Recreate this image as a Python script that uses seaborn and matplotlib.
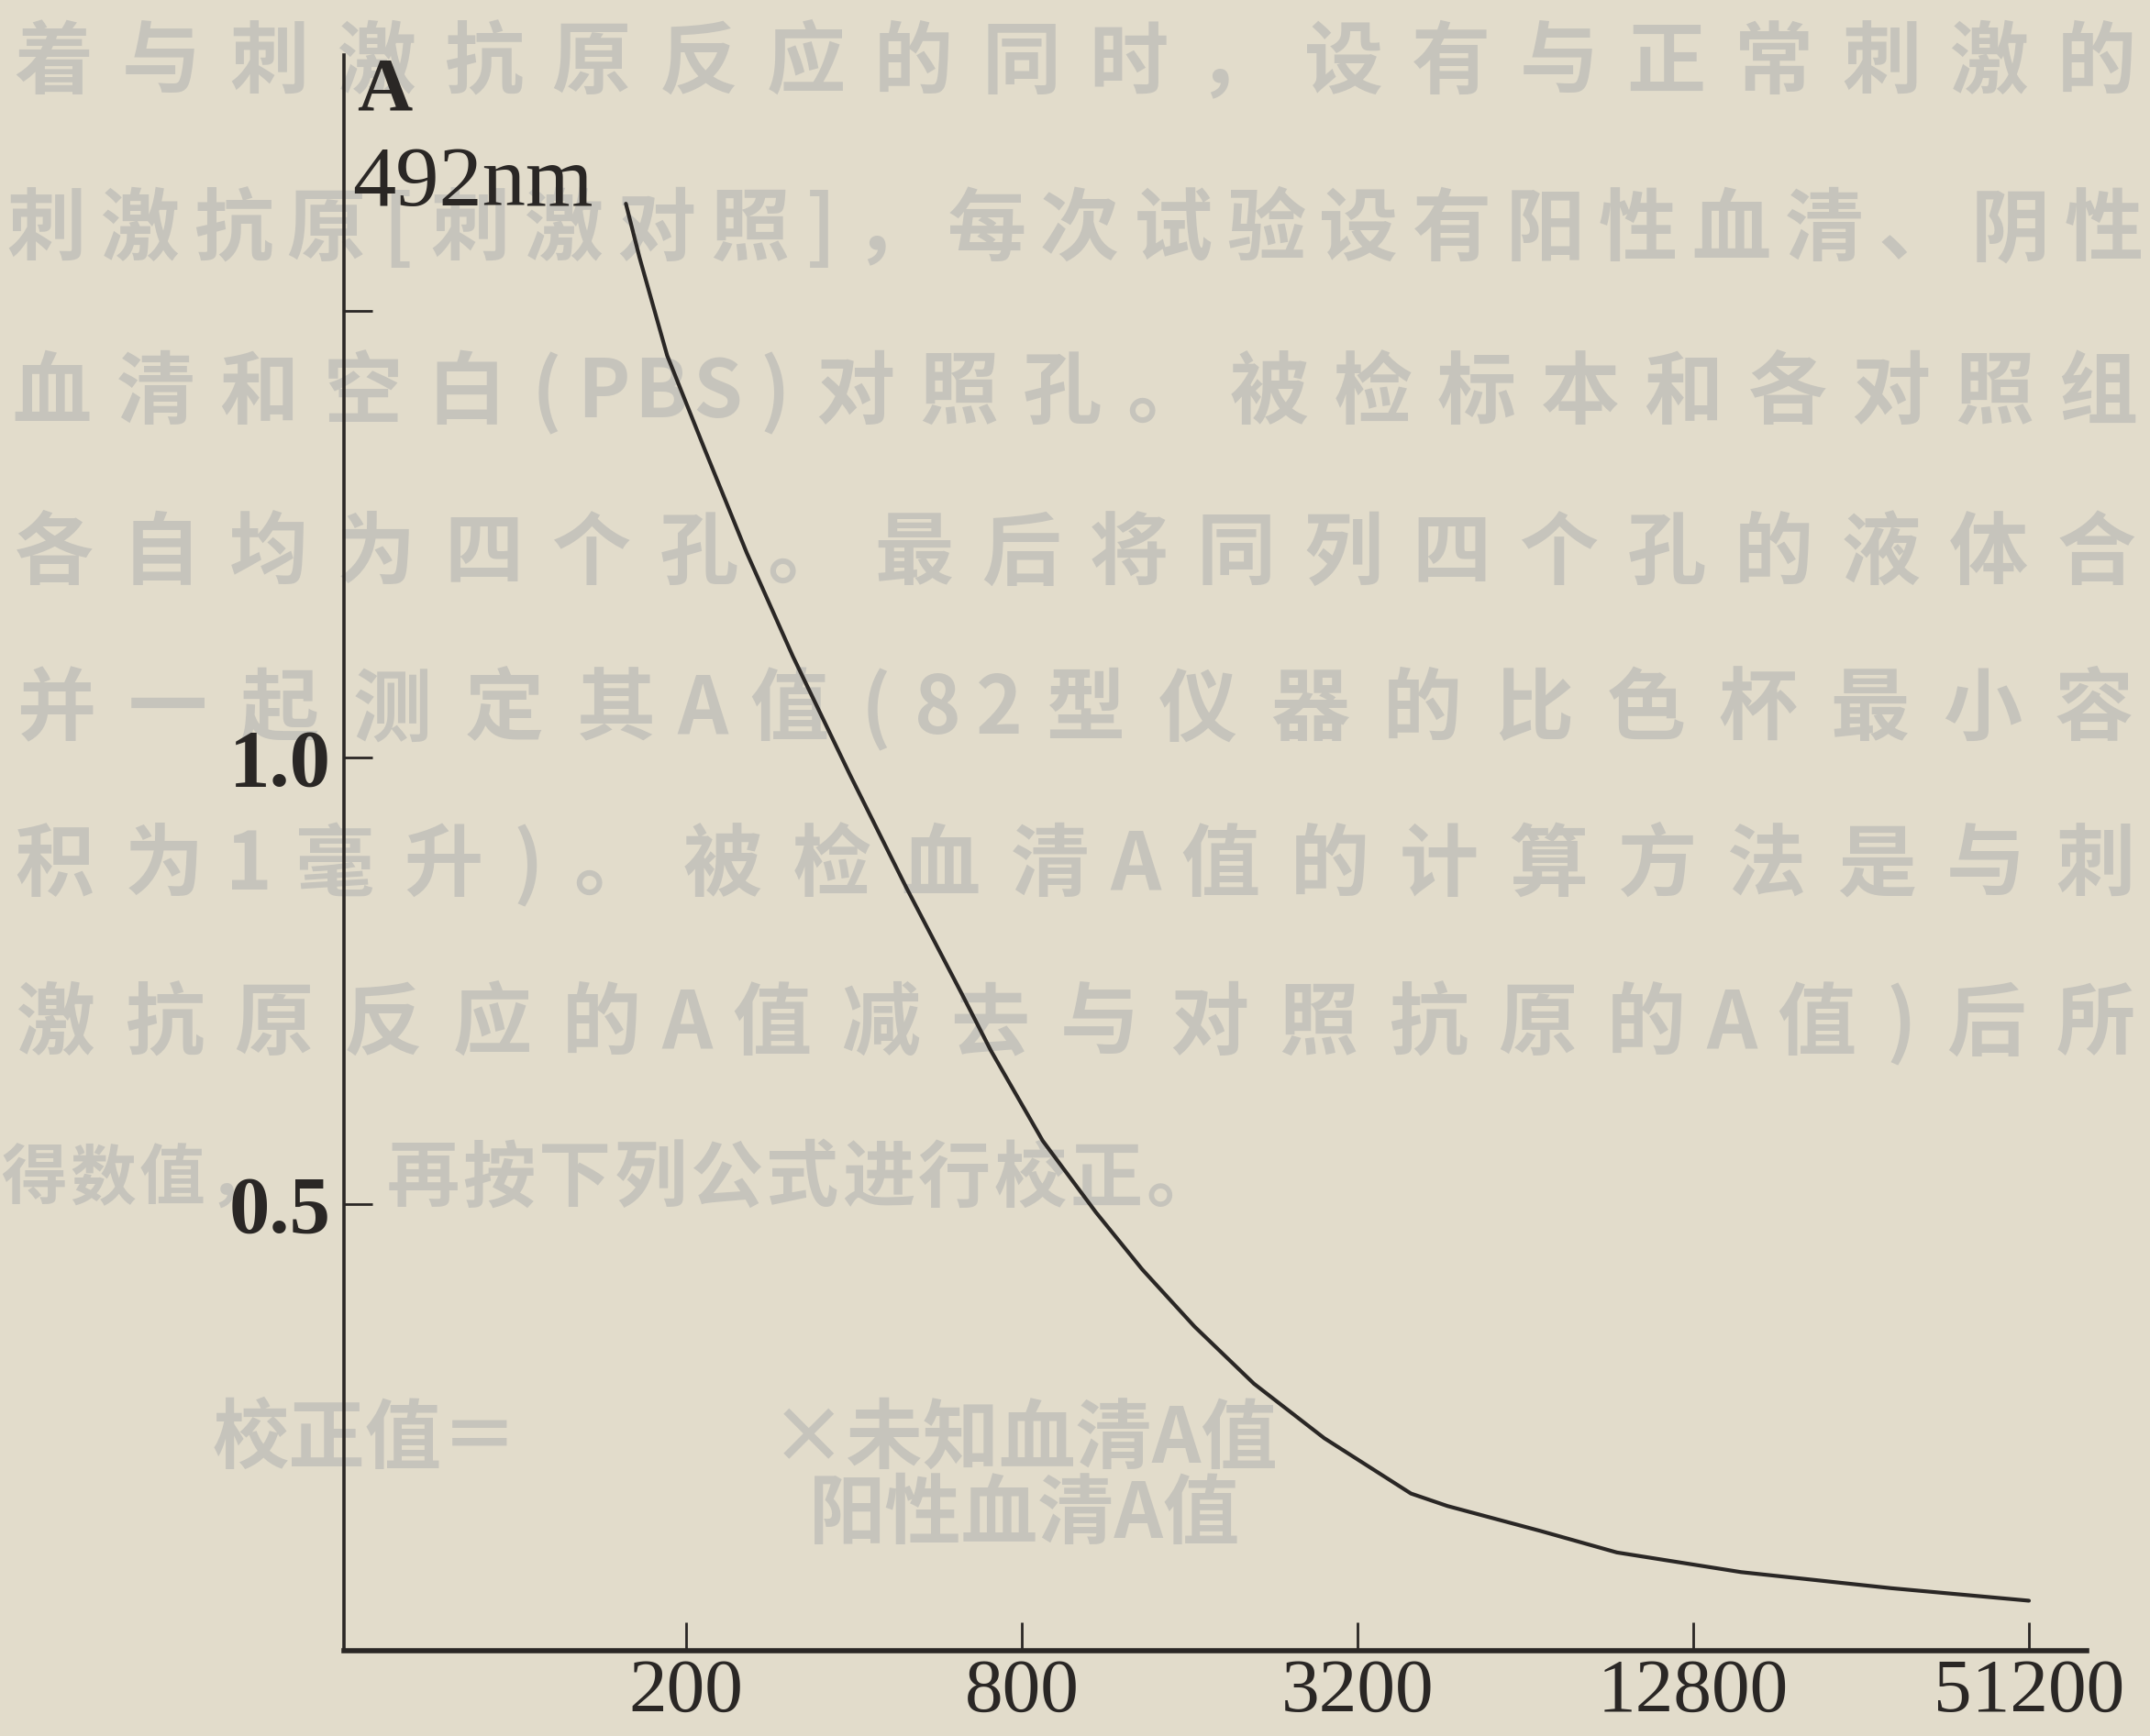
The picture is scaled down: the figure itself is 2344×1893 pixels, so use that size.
import numpy as np
import pandas as pd
import matplotlib
matplotlib.use('Agg')
import matplotlib.pyplot as plt
import seaborn as sns

# ---------------------------------------------------
# data
dilution = [156, 165, 185, 216, 257, 311, 394, 496, 625, 704, 872, 1086, 1315,
            1632, 2086, 2789, 3990, 4640, 6820, 9340, 15600, 29000, 51200]
absorbance = [1.620, 1.560, 1.450, 1.345, 1.229, 1.113, 0.980, 0.855, 0.735,
              0.672, 0.571, 0.491, 0.427, 0.363, 0.299, 0.238, 0.176, 0.162,
              0.134, 0.110, 0.088, 0.070, 0.056]

x_ticks = [200, 800, 3200, 12800, 51200]
x_tick_labels = ['200', '800', '3200', '12800', '51200']
y_ticks = [0.5, 1.0, 1.5]
y_tick_labels = ['0.5', '1.0', '']

# faint page text showing through the paper
page_rows = [
    '着与刺激抗原反应的同时，设有与正常刺激的',
    '刺激抗原[刺激对照]，每次试验设有阳性血清、阴性',
    '血清和空白(PBS)对照孔。被检标本和各对照组',
    '各自均为四个孔。最后将同列四个孔的液体合',
    '并一起测定其A值(82型仪器的比色杯最小容',
    '积为1毫升)。被检血清A值的计算方法是与刺',
    '激抗原反应的A值减去与对照抗原的A值)后所',
    '得数值，',
    '再按下列公式进行校正。',
]

df = pd.DataFrame({'dilution': dilution, 'A': absorbance})

paper = '#e2dccb'
ink = '#2a2725'
ghost = '#c6c4bc'

sns.set_theme(style='ticks')
plt.rcParams['font.family'] = ['Liberation Serif', 'Noto Sans CJK SC', 'DejaVu Sans']

W, H = 2344, 1893
fig = plt.figure(figsize=(W / 100, H / 100), dpi=100, facecolor=paper)

# ---------------------------------------------------
# background text rows, spread over the row width (pixels -> figure fraction)
row_y = [70, 252, 430, 605, 775, 945, 1118, 1286, 1286]
row_x0 = [0, 0, 0, 0, 0, 0, 0, 0, 420]
row_x1 = [2344, 2344, 2344, 2344, 2344, 2344, 2344, 300, 1330]
for text, yc, x0, x1 in zip(page_rows, row_y, row_x0, row_x1):
    widths = [0.55 if ord(ch) < 128 else 1.0 for ch in text]
    step = (x1 - x0) / sum(widths)
    pos = float(x0)
    for ch, w in zip(text, widths):
        fig.text((pos + w * step / 2) / W, 1 - yc / H, ch,
                 family='Noto Sans CJK SC', fontsize=min(62, step / 1.45),
                 fontweight='bold', color=ghost, ha='center', va='center',
                 zorder=-1)
        pos += w * step
fig.text(232 / W, 1 - 1570 / H, '校正值＝', family='Noto Sans CJK SC',
         fontsize=60, fontweight='bold', color=ghost, ha='left', va='center', zorder=-1)
fig.text(840 / W, 1 - 1570 / H, '×未知血清A值', family='Noto Sans CJK SC',
         fontsize=60, fontweight='bold', color=ghost, ha='left', va='center', zorder=-1)
fig.text(882 / W, 1 - 1652 / H, '阳性血清A值', family='Noto Sans CJK SC',
         fontsize=60, fontweight='bold', color=ghost, ha='left', va='center', zorder=-1)

# ---------------------------------------------------
# axes
ax = fig.add_axes([375 / W, 1 - 1800 / H, (2275 - 375) / W, (1800 - 60) / H])
ax.set_facecolor('none')

sns.lineplot(data=df, x='dilution', y='A', ax=ax, color=ink, linewidth=3.0,
             sort=False, estimator=None)

ax.set_xscale('log', base=4)
ax.set_xlim(48.7, 65000)
ax.set_ylim(0, (1800 - 60) / 974)

ax.set_xticks(x_ticks)
ax.set_xticklabels(x_tick_labels)
ax.minorticks_off()
ax.set_yticks(y_ticks)
ax.set_yticklabels(y_tick_labels)

for side in ['top', 'right']:
    ax.spines[side].set_visible(False)
ax.spines['left'].set_linewidth(2.6)
ax.spines['bottom'].set_linewidth(4.0)
ax.spines['left'].set_color(ink)
ax.spines['bottom'].set_color(ink)

ax.tick_params(axis='both', direction='in', length=22, width=2.0, colors=ink)
ax.tick_params(axis='x', labelsize=60, pad=6)
ax.tick_params(axis='y', labelsize=64, pad=10)
for lab in ax.get_yticklabels():
    lab.set_fontweight('bold')

ax.set_xlabel('')
ax.set_ylabel('')

# axis title written at the top of the y axis
fig.text(389 / W, 1 - 62 / H, 'A', fontsize=60, fontweight='bold',
         color=ink, ha='left', va='top')
fig.text(384 / W, 1 - 224 / H, '492nm', fontsize=68, color=ink,
         ha='left', va='baseline')

plt.savefig('out.png', dpi=100, facecolor=paper)
plt.close()
